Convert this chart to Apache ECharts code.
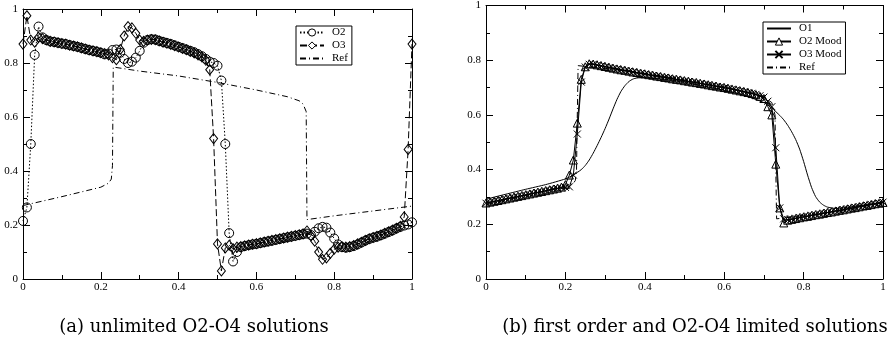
<!DOCTYPE html>
<html><head><meta charset="utf-8">
<script src="https://cdn.jsdelivr.net/npm/echarts@6/dist/echarts.min.js"></script>
<style>html,body{margin:0;padding:0;background:#fff}#c{width:891px;height:348px}</style>
</head><body><div id="c"></div>
<script>
// cell positions (uniform mesh of 100 cells)
const xGrid = [0,0.01,0.02,0.03,0.04,0.05,0.06,0.07,0.08,0.09,
 0.10,0.11,0.12,0.13,0.14,0.15,0.16,0.17,0.18,0.19,
 0.20,0.21,0.22,0.23,0.24,0.25,0.26,0.27,0.28,0.29,
 0.30,0.31,0.32,0.33,0.34,0.35,0.36,0.37,0.38,0.39,
 0.40,0.41,0.42,0.43,0.44,0.45,0.46,0.47,0.48,0.49,
 0.50,0.51,0.52,0.53,0.54,0.55,0.56,0.57,0.58,0.59,
 0.60,0.61,0.62,0.63,0.64,0.65,0.66,0.67,0.68,0.69,
 0.70,0.71,0.72,0.73,0.74,0.75,0.76,0.77,0.78,0.79,
 0.80,0.81,0.82,0.83,0.84,0.85,0.86,0.87,0.88,0.89,
 0.90,0.91,0.92,0.93,0.94,0.95,0.96,0.97,0.98,0.99,1.00];

// (a) unlimited
const aO2 = [0.215,0.265,0.50,0.83,0.935,0.895,0.885,0.88,0.878,0.875,
 0.872,0.87,0.866,0.863,0.86,0.856,0.852,0.848,0.845,0.842,
 0.838,0.832,0.835,0.848,0.85,0.838,0.815,0.80,0.805,0.82,
 0.845,0.875,0.885,0.888,0.887,0.882,0.878,0.874,0.87,0.865,
 0.86,0.855,0.85,0.845,0.84,0.833,0.825,0.815,0.805,0.80,
 0.79,0.735,0.50,0.17,0.065,0.10,0.118,0.122,0.125,0.128,
 0.13,0.133,0.136,0.139,0.142,0.145,0.148,0.151,0.154,0.157,
 0.16,0.163,0.166,0.168,0.163,0.175,0.188,0.193,0.19,0.172,
 0.15,0.128,0.118,0.116,0.118,0.122,0.128,0.135,0.142,0.148,
 0.153,0.157,0.162,0.168,0.174,0.18,0.187,0.193,0.198,0.202,0.21];
const aO3 = [0.87,0.975,0.885,0.877,0.895,0.89,0.885,0.88,0.878,0.875,
 0.872,0.87,0.866,0.863,0.86,0.856,0.852,0.848,0.845,0.842,
 0.838,0.835,0.83,0.82,0.812,0.85,0.90,0.935,0.93,0.91,
 0.885,0.88,0.885,0.887,0.886,0.882,0.877,0.873,0.869,0.864,
 0.859,0.854,0.849,0.843,0.837,0.83,0.822,0.81,0.775,0.52,
 0.13,0.03,0.115,0.125,0.112,0.118,0.12,0.123,0.126,0.129,
 0.131,0.134,0.137,0.14,0.143,0.146,0.149,0.152,0.155,0.158,
 0.161,0.164,0.167,0.178,0.16,0.14,0.10,0.073,0.078,0.095,
 0.11,0.118,0.12,0.118,0.12,0.124,0.13,0.136,0.143,0.149,
 0.154,0.158,0.163,0.169,0.175,0.181,0.188,0.195,0.23,0.48,0.87];
const aRefX = [0,0.1,0.2,0.22,0.227,0.23,0.231,0.232,0.3,0.4,0.5,0.6,0.68,0.71,0.72,0.728,0.73,0.8,0.9,1];
const aRefY = [0.272,0.305,0.34,0.355,0.37,0.42,0.6,0.785,0.77,0.752,0.728,0.70,0.675,0.66,0.648,0.62,0.22,0.234,0.252,0.27];

// (b) limited
const bO1X = [0,0.05,0.1,0.15,0.2,0.22,0.24,0.25,0.26,0.27,0.28,0.29,0.30,0.31,0.32,0.33,0.34,0.35,0.36,0.37,0.38,0.40,0.45,0.5,0.55,0.6,0.65,0.7,0.72,0.74,0.75,0.76,0.77,0.78,0.79,0.80,0.81,0.82,0.83,0.84,0.85,0.86,0.88,0.9,0.95,1];
const bO1Y = [0.292,0.31,0.328,0.345,0.366,0.38,0.40,0.415,0.435,0.46,0.488,0.518,0.55,0.585,0.622,0.657,0.686,0.707,0.722,0.731,0.735,0.736,0.73,0.72,0.705,0.69,0.672,0.645,0.625,0.598,0.582,0.562,0.538,0.51,0.475,0.43,0.38,0.335,0.302,0.282,0.27,0.263,0.258,0.26,0.27,0.278];
const bO2 = [0.278,0.281,0.284,0.287,0.29,0.293,0.296,0.299,0.302,0.305,
 0.308,0.311,0.314,0.317,0.32,0.323,0.326,0.329,0.332,0.336,
 0.345,0.38,0.435,0.57,0.73,0.776,0.787,0.786,0.783,0.78,
 0.777,0.774,0.771,0.768,0.765,0.763,0.76,0.757,0.755,0.752,
 0.75,0.747,0.745,0.742,0.74,0.737,0.735,0.732,0.73,0.728,
 0.725,0.723,0.72,0.718,0.715,0.713,0.71,0.707,0.705,0.702,
 0.70,0.697,0.694,0.691,0.688,0.685,0.682,0.678,0.674,0.668,
 0.66,0.63,0.60,0.42,0.26,0.205,0.215,0.218,0.221,0.224,
 0.227,0.229,0.232,0.235,0.237,0.24,0.243,0.245,0.248,0.251,
 0.253,0.256,0.259,0.261,0.264,0.267,0.269,0.272,0.275,0.277,0.28];
const bO3 = [0.277,0.28,0.283,0.286,0.289,0.292,0.295,0.298,0.301,0.304,
 0.307,0.31,0.313,0.316,0.319,0.322,0.325,0.328,0.331,0.333,
 0.335,0.337,0.38,0.53,0.72,0.775,0.785,0.785,0.782,0.779,
 0.776,0.773,0.77,0.768,0.765,0.762,0.76,0.757,0.754,0.752,
 0.749,0.747,0.744,0.742,0.739,0.737,0.734,0.732,0.729,0.727,
 0.724,0.722,0.72,0.717,0.715,0.712,0.71,0.707,0.704,0.702,
 0.699,0.697,0.694,0.691,0.688,0.685,0.682,0.679,0.675,0.67,
 0.665,0.65,0.63,0.48,0.26,0.22,0.217,0.219,0.222,0.225,
 0.227,0.23,0.233,0.235,0.238,0.241,0.243,0.246,0.249,0.251,
 0.254,0.257,0.259,0.262,0.265,0.267,0.27,0.273,0.275,0.278,0.281];
const bRefX = [0,0.1,0.2,0.22,0.225,0.228,0.23,0.232,0.3,0.4,0.5,0.6,0.7,0.72,0.728,0.73,0.732,0.8,0.9,1];
const bRefY = [0.272,0.305,0.34,0.35,0.36,0.4,0.6,0.78,0.77,0.752,0.728,0.703,0.665,0.645,0.6,0.4,0.22,0.232,0.25,0.272];

const tickLabels = ['0','0.2','0.4','0.6','0.8','1'];
const captionA = '(a) unlimited O2-O4 solutions';
const captionB = '(b) first order and O2-O4 limited solutions';

const FONT = 'Liberation Serif';
const zip = (xs, ys) => xs.map((x, i) => [x, ys[i]]);
const fmt = v => tickLabels[Math.round(v * 5)];

function xAx(grid, top) {
  return {
    gridIndex: grid, type: 'value', min: 0, max: 1, interval: 0.2,
    position: top ? 'top' : 'bottom',
    axisLine: { onZero: false, lineStyle: { color: '#000', width: 1 } },
    axisTick: { inside: true, length: 7, lineStyle: { color: '#000' } },
    minorTick: { show: true, splitNumber: 2, length: 4, lineStyle: { color: '#000' } },
    splitLine: { show: false },
    axisLabel: { show: !top, formatter: fmt, color: '#000', fontFamily: FONT, fontSize: 11, margin: 3 }
  };
}
function yAx(grid, right) {
  return {
    gridIndex: grid, type: 'value', min: 0, max: 1, interval: 0.2,
    position: right ? 'right' : 'left',
    axisLine: { onZero: false, lineStyle: { color: '#000', width: 1 } },
    axisTick: { inside: true, length: 7, lineStyle: { color: '#000' } },
    minorTick: { show: true, splitNumber: 2, length: 4, lineStyle: { color: '#000' } },
    splitLine: { show: false },
    axisLabel: { show: !right, formatter: fmt, color: '#000', fontFamily: FONT, fontSize: 11, margin: 5 }
  };
}
const hollow = { color: 'rgba(0,0,0,0)', borderColor: '#000', borderWidth: 1 };
const crossPath = 'path://M0,0L10,10M10,0L0,10';
const noMark = { opacity: 0 };
const openMark = { color: '#fff', borderColor: '#000', borderWidth: 1 };
const legendBase = {
  orient: 'vertical', backgroundColor: '#fff', borderColor: '#000', borderWidth: 1, borderRadius: 0,
  padding: [1, 4, 1, 3], itemGap: 2, itemWidth: 24, itemHeight: 9,
  textStyle: { fontFamily: FONT, fontSize: 11, color: '#000', padding: [0, 0, 0, 3] }
};

const chart = echarts.init(document.getElementById('c'), null, { renderer: 'canvas' });
chart.setOption({
  animation: false,
  backgroundColor: '#fff',
  textStyle: { fontFamily: FONT },
  grid: [
    { left: 23, right: 479, top: 9, bottom: 69 },
    { left: 486, right: 8, top: 2, bottom: 69 }
  ],
  xAxis: [xAx(0, false), xAx(0, true), xAx(1, false), xAx(1, true)],
  yAxis: [yAx(0, false), yAx(0, true), yAx(1, false), yAx(1, true)],
  legend: [
    Object.assign({}, legendBase, { left: 296, top: 26,
      data: [{ name: 'O2', itemStyle: openMark }, { name: 'O3', itemStyle: openMark }, { name: 'Ref', itemStyle: noMark }] }),
    Object.assign({}, legendBase, { left: 763, top: 22,
      data: [{ name: 'O1', itemStyle: noMark }, { name: 'O2 Mood', itemStyle: openMark }, 'O3 Mood', { name: 'Ref', itemStyle: noMark }] })
  ],
  graphic: [
    { type: 'text', x: 194, y: 327, style: { text: captionA, fontFamily: 'DejaVu Serif', fontSize: 18, fill: '#000', textAlign: 'center', textVerticalAlign: 'middle' } },
    { type: 'text', x: 695, y: 327, style: { text: captionB, fontFamily: 'DejaVu Serif', fontSize: 18, fill: '#000', textAlign: 'center', textVerticalAlign: 'middle' } }
  ],
  series: [
    { name: 'Ref', type: 'line', xAxisIndex: 0, yAxisIndex: 0, data: zip(aRefX, aRefY), symbol: 'none',
      lineStyle: { color: '#000', width: 1, type: [6, 3, 1, 3] }, itemStyle: { color: '#000' } },
    { name: 'O2', type: 'line', xAxisIndex: 0, yAxisIndex: 0, data: zip(xGrid, aO2), symbol: 'circle', symbolSize: 9, showAllSymbol: true,
      lineStyle: { color: '#000', width: 1, type: [1.5, 2] }, itemStyle: hollow },
    { name: 'O3', type: 'line', xAxisIndex: 0, yAxisIndex: 0, data: zip(xGrid, aO3), symbol: 'diamond', symbolSize: [8, 10], showAllSymbol: true,
      lineStyle: { color: '#000', width: 1, type: [7, 3] }, itemStyle: hollow },
    { name: 'O1', type: 'line', xAxisIndex: 2, yAxisIndex: 2, data: zip(bO1X, bO1Y), symbol: 'none', smooth: 0.2,
      lineStyle: { color: '#000', width: 1 }, itemStyle: { color: '#000' } },
    { name: 'O2 Mood', type: 'line', xAxisIndex: 2, yAxisIndex: 2, data: zip(xGrid, bO2), symbol: 'triangle', symbolSize: 8, showAllSymbol: true,
      lineStyle: { color: '#000', width: 1 }, itemStyle: hollow },
    { name: 'O3 Mood', type: 'line', xAxisIndex: 2, yAxisIndex: 2, data: zip(xGrid, bO3), symbol: crossPath, symbolSize: 7, showAllSymbol: true,
      lineStyle: { color: '#000', width: 1 }, itemStyle: hollow },
    { name: 'Ref', type: 'line', xAxisIndex: 2, yAxisIndex: 2, data: zip(bRefX, bRefY), symbol: 'none',
      lineStyle: { color: '#000', width: 1, type: [6, 3, 1, 3] }, itemStyle: { color: '#000' } }
  ]
});
</script></body></html>
